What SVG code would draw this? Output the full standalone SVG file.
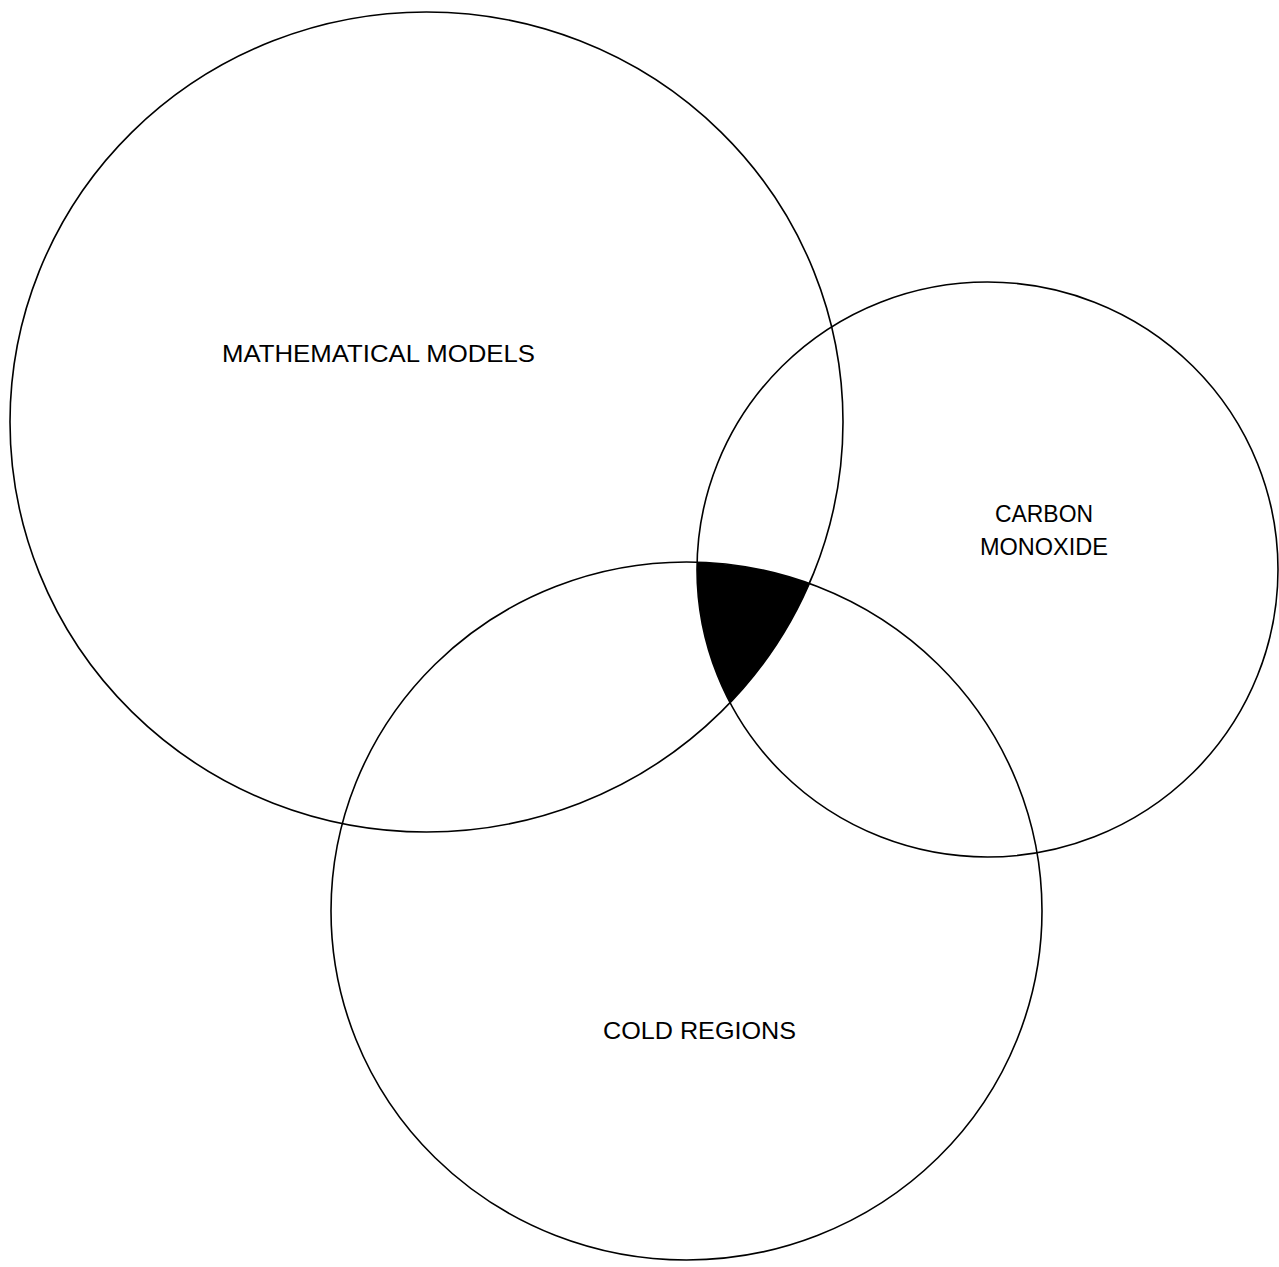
<svg xmlns="http://www.w3.org/2000/svg" width="1279" height="1267" viewBox="0 0 1279 1267">
<style>
.c{fill:none;stroke:#000;stroke-width:1.6}
.t{font-family:"Liberation Sans","DejaVu Sans",sans-serif;font-size:24px;fill:#000;text-anchor:middle}
</style>
<defs>
<clipPath id="k2"><ellipse cx="987.5" cy="569.5" rx="290.5" ry="287.5"/></clipPath>
<clipPath id="k3"><ellipse cx="686.5" cy="911" rx="355.5" ry="349"/></clipPath>
</defs>
<rect width="1279" height="1267" fill="#fff"/>
<g id="overlap" clip-path="url(#k2)">
<ellipse cx="426.5" cy="422" rx="416.5" ry="410" fill="#000" clip-path="url(#k3)"/>
</g>
<g id="math">
<ellipse class="c" cx="426.5" cy="422" rx="416.5" ry="410"/>
<text class="t" x="378.5" y="362" textLength="313" lengthAdjust="spacingAndGlyphs">MATHEMATICAL MODELS</text>
</g>
<g id="carbon">
<ellipse class="c" cx="987.5" cy="569.5" rx="290.5" ry="287.5"/>
<text class="t" x="1044" y="522" textLength="98" lengthAdjust="spacingAndGlyphs">CARBON</text>
<text class="t" x="1044" y="555" textLength="128" lengthAdjust="spacingAndGlyphs">MONOXIDE</text>
</g>
<g id="cold">
<ellipse class="c" cx="686.5" cy="911" rx="355.5" ry="349"/>
<text class="t" x="699.5" y="1039" textLength="193" lengthAdjust="spacingAndGlyphs">COLD REGIONS</text>
</g>
<g id="connectors"/>
</svg>
